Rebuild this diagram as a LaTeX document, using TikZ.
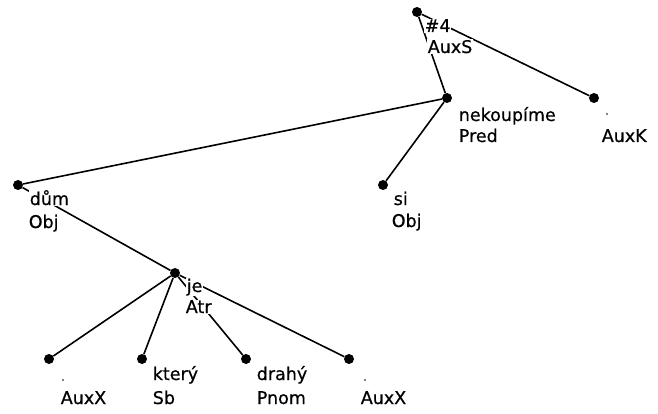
\documentclass[tikz,border=0pt]{standalone}
\usepackage{fontspec}
\setmainfont{DejaVu Sans}
\newfontfamily\lblfont{DejaVu Sans}[FakeBold=0.6]
\begin{document}
\begin{tikzpicture}[x=1pt,y=-1pt,
  vert/.style={circle,fill=black,inner sep=0pt,minimum size=10pt},
  edge/.style={line width=1.6pt},
  lbl/.style={anchor=base west,fill=white,inner sep=0.6pt,font=\lblfont\fontsize{17.5}{20}\selectfont},
  speck/.style={circle,fill=black,inner sep=0pt,minimum size=1.8pt}]
\useasboundingbox (0,0) rectangle (658,414);
% vertices
\node[vert] (root) at (417,12) {};
\node[vert] (pred) at (447,98) {};
\node[vert] (auxk) at (594,98) {};
\node[vert] (dum) at (18,185) {};
\node[vert] (si) at (383,185) {};
\node[vert] (je) at (175,273) {};
\node[vert] (auxa) at (49,359) {};
\node[vert] (ktery) at (142,359) {};
\node[vert] (drahy) at (246,359) {};
\node[vert] (auxb) at (349,359) {};
% edges
\draw[edge] (root) -- (pred);
\draw[edge] (root) -- (auxk);
\draw[edge] (pred) -- (dum);
\draw[edge] (pred) -- (si);
\draw[edge] (dum) -- (je);
\draw[edge] (je) -- (auxa);
\draw[edge] (je) -- (ktery);
\draw[edge] (je) -- (drahy);
\draw[edge] (je) -- (auxb);
% labels
\node[lbl] (t1) at (424,32) {\#4};
\node[lbl] (t2) at (427,53) {AuxS};
\node[lbl] (t3) at (458,121) {nekoupíme};
\node[lbl] (t4) at (458,142) {Pred};
\node[lbl] (t5) at (601,142) {AuxK};
\node[lbl] (t6) at (29,205) {dům};
\node[lbl] (t7) at (28,228) {Obj};
\node[lbl] (t8) at (393,205) {si};
\node[lbl] (t9) at (391,227) {Obj};
\node[lbl] (t10) at (186,292) {je};
\node[lbl] (t11) at (185,313) {Atr};
\node[lbl] (t12) at (60,404) {AuxX};
\node[lbl] (t13) at (152,380) {který};
\node[lbl] (t14) at (152,404) {Sb};
\node[lbl] (t15) at (256,380) {drahý};
\node[lbl] (t16) at (256,404) {Pnom};
\node[lbl] (t17) at (360,404) {AuxX};
% tiny punctuation specks
\node[speck] (s1) at (63,380) {};
\node[speck] (s2) at (365,380) {};
\node[speck] (s3) at (607,114) {};
\end{tikzpicture}
\end{document}
